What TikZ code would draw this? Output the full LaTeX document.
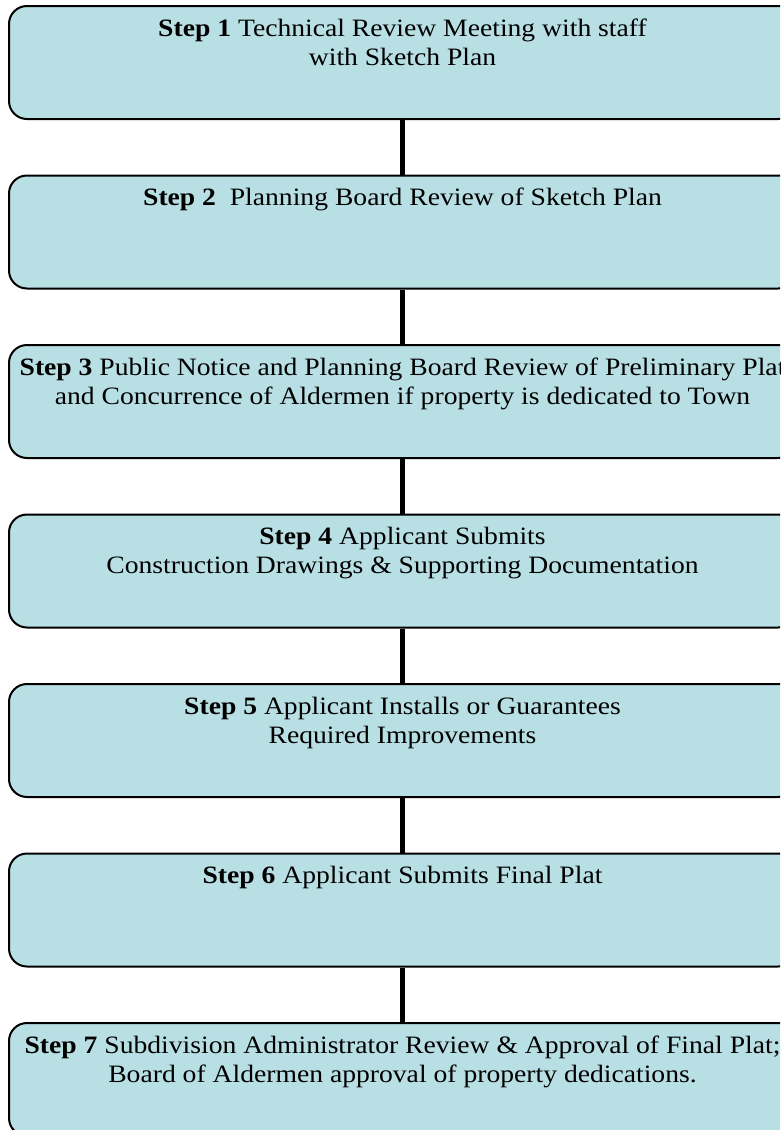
\documentclass[tikz,border=0pt]{standalone}
\usepackage{fontspec}
\setmainfont{Liberation Serif}[FakeStretch=1.105]
\definecolor{stepfill}{RGB}{184,223,228}
\tikzset{
  stepbox/.style={draw=black, line width=2pt, rounded corners=18pt, fill=stepfill,
    minimum width=787pt, minimum height=113pt, inner sep=0pt, anchor=north west},
  steptext/.style={anchor=north, inner sep=0pt, align=center,
    font=\fontsize{25}{29}\selectfont},
  link/.style={draw=black, line width=5.5pt}
}
\begin{document}
\begin{tikzpicture}[x=1pt,y=-1pt]
\useasboundingbox (0,0) rectangle (780,1130);
\clip (0,0) rectangle (780,1130);
% the seven step boxes, 169.5pt apart
\node[stepbox] (b1) at (8,5) {};
\node[stepbox] (b2) at (8,174.5) {};
\node[stepbox] (b3) at (8,344) {};
\node[stepbox] (b4) at (8,513.5) {};
\node[stepbox] (b5) at (8,683) {};
\node[stepbox] (b6) at (8,852.5) {};
\node[stepbox] (b7) at (8,1022) {};
% captions
\node[steptext] (t1) at ([yshift=-13.5pt]b1.north) {\textbf{Step 1} Technical Review Meeting with staff\\with Sketch Plan};
\node[steptext] (t2) at ([yshift=-13.5pt]b2.north) {\textbf{Step 2}\ \ Planning Board Review of Sketch Plan};
\node[steptext] (t3) at ([yshift=-13.5pt]b3.north) {\textbf{Step 3} Public Notice and Planning Board Review of Preliminary Plat\\and Concurrence of Aldermen if property is dedicated to Town};
\node[steptext] (t4) at ([yshift=-13.5pt]b4.north) {\textbf{Step 4} Applicant Submits\\Construction Drawings \& Supporting Documentation};
\node[steptext] (t5) at ([yshift=-13.5pt]b5.north) {\textbf{Step 5} Applicant Installs or Guarantees\\Required Improvements};
\node[steptext] (t6) at ([yshift=-13.5pt]b6.north) {\textbf{Step 6} Applicant Submits Final Plat};
\node[steptext] (t7) at ([yshift=-13.5pt]b7.north) {\textbf{Step 7} Subdivision Administrator Review \& Approval of Final Plat;\\Board of Aldermen approval of property dedications.};
% connectors
\draw[link] (b1.south) -- (b2.north);
\draw[link] (b2.south) -- (b3.north);
\draw[link] (b3.south) -- (b4.north);
\draw[link] (b4.south) -- (b5.north);
\draw[link] (b5.south) -- (b6.north);
\draw[link] (b6.south) -- (b7.north);
\end{tikzpicture}
\end{document}
